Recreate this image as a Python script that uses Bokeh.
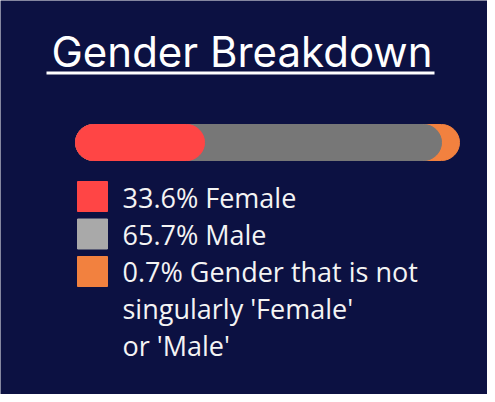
from bokeh.plotting import figure
from bokeh.models import Range1d, ColumnDataSource
from bokeh.core.properties import value
from bokeh.embed import file_html
from bokeh.resources import INLINE

# ---- data ----
categories = ["Female", "Male", "Gender that is not singularly 'Female' or 'Male'"]
shares = [33.6, 65.7, 0.7]
label_lines = [["33.6% Female"], ["65.7% Male"],
               ["0.7% Gender that is not", "singularly 'Female'", "or 'Male'"]]
colors = ["#ff4545", "#777777", "#f2813f"]
legend_colors = ["#ff4545", "#a9a9a9", "#f2813f"]

BG = "#0c1142"
W, H = 487, 394

p = figure(width=W, height=H, output_backend="svg", toolbar_location=None,
           x_range=Range1d(0, W), y_range=Range1d(0, H),
           min_border=0, background_fill_color=BG, border_fill_color=BG,
           outline_line_color=None)
p.axis.visible = False
p.grid.visible = False


def Y(top):  # distance from top of the figure -> data y
    return H - top


# percent scale for the bar: 0% at px 75, 100% at px 459
bar_left, bar_right = 75, 459
scale = (bar_right - bar_left) / 100.0
p.extra_x_ranges = {"pct": Range1d(-bar_left / scale, (W - bar_left) / scale)}

# layered capsule bar: track (last category) full, then cumulative layers on top
radius = 18
min_vis = radius / scale  # smallest visible tail
ends = [100.0, 100.0 - max(shares[2], min_vis), shares[0]]
layer_colors = [colors[2], colors[1], colors[0]]
src = ColumnDataSource(dict(y=[Y(142)] * 3, left=[0] * 3, right=ends, color=layer_colors))
p.hbar(y="y", left="left", right="right", height=36, color="color", source=src,
       x_range_name="pct", border_radius=radius)

# title
p.text(x=[W / 2 - 2], y=[Y(51)], text=["Gender Breakdown"], text_font=value("Inter"),
       text_font_size="42px", text_color="white", text_align="center",
       text_baseline="alphabetic")
p.segment(x0=[46], y0=[Y(72.5)], x1=[434], y1=[Y(72.5)], line_color="white", line_width=3)

# legend
top0, step = 196, 37.5
ys = [Y(top0 + i * step) for i in range(3)]
p.rect(x=[92] * 3, y=ys, width=30, height=30, color=legend_colors)

base0, line_step = 197, 37
tx, ty, tt = [], [], []
k = 0
for lines in label_lines:
    for ln in lines:
        tx.append(122)
        ty.append(Y(base0 + k * line_step))
        tt.append(ln)
        k += 1
p.text(x=tx, y=ty, text=tt, text_font=value("Open Sans"),
       text_font_size="27px", text_color="#f4f4f4", text_baseline="alphabetic")

open("out.html", "w").write(file_html(p, INLINE))
